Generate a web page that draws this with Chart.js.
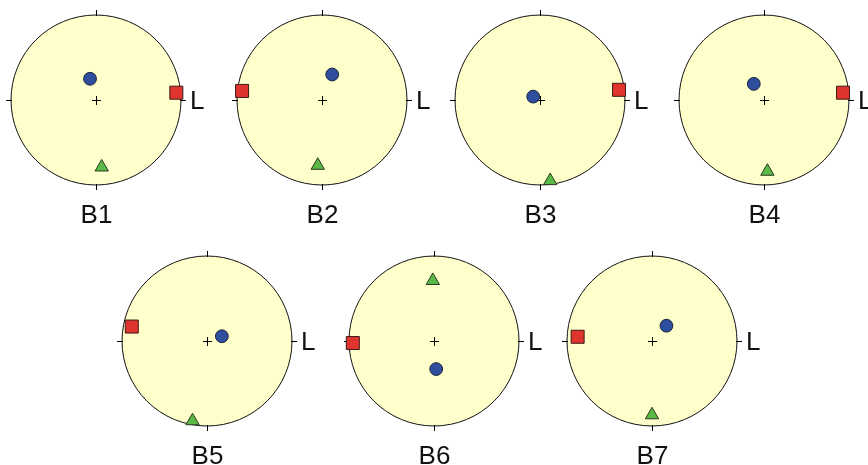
<!DOCTYPE html>
<html>
<head>
<meta charset="utf-8">
<script src="https://cdn.jsdelivr.net/npm/chart.js@4.4.1/dist/chart.umd.min.js"></script>
<style>
  html, body { margin: 0; padding: 0; background: #fff; overflow: hidden; }
  #wrap { position: relative; width: 868px; height: 465px; overflow: hidden; }
  #wrap canvas { position: absolute; }
</style>
</head>
<body>
<div id="wrap"></div>
<script>
  // net names and the label on the east side
  var netNames = ['B1', 'B2', 'B3', 'B4', 'B5', 'B6', 'B7'];
  var eastLabel = 'L';

  // poles in unit-circle coords (x = east, y = north)
  var squarePts = [
    [0.945, 0.086], [-0.94, 0.107], [0.93, 0.12], [0.93, 0.086],
    [-0.885, 0.17], [-0.955, -0.024], [-0.875, 0.05]
  ];
  var circlePts = [
    [-0.07, 0.25], [0.12, 0.30], [-0.08, 0.04], [-0.12, 0.19],
    [0.175, 0.056], [0.026, -0.33], [0.17, 0.18]
  ];
  var trianglePts = [
    [0.067, -0.79], [-0.05, -0.77], [0.12, -0.95], [0.04, -0.84],
    [-0.17, -0.94], [-0.014, 0.71], [0.0, -0.87]
  ];

  // layout: centre of each net on the page
  var netCx = [96, 322, 540, 764, 207, 434, 652];
  var netCy = [100, 100, 100, 100, 341, 341, 341];
  var R = 85;
  var pad = { left: 20, top: 20, right: 45, bottom: 45 };
  var FONT = '"Liberation Sans", Arial, Helvetica, sans-serif';

  function toXY(arr) {
    return arr.map(function(p) { return { x: p[0], y: p[1] }; });
  }

  var netPlugin = {
    id: 'net',
    beforeDatasetsDraw: function(chart) {
      var ctx = chart.ctx;
      var a = chart.chartArea;
      var cx = (a.left + a.right) / 2, cy = (a.top + a.bottom) / 2;
      var r = (a.right - a.left) / 2;
      ctx.save();
      ctx.beginPath();
      ctx.arc(cx, cy, r, 0, Math.PI * 2);
      ctx.fillStyle = '#ffffcc';
      ctx.fill();
      ctx.lineWidth = 1;
      ctx.strokeStyle = '#111';
      ctx.stroke();
      // ticks at N, E, S, W and the centre cross
      ctx.beginPath();
      ctx.moveTo(cx + 0.5, cy - r - 5); ctx.lineTo(cx + 0.5, cy - r + 1);
      ctx.moveTo(cx + 0.5, cy + r + 5); ctx.lineTo(cx + 0.5, cy + r - 1);
      ctx.moveTo(cx - r - 5, cy + 0.5); ctx.lineTo(cx - r + 1, cy + 0.5);
      ctx.moveTo(cx + r + 5, cy + 0.5); ctx.lineTo(cx + r - 1, cy + 0.5);
      ctx.moveTo(cx - 4, cy + 0.5); ctx.lineTo(cx + 5, cy + 0.5);
      ctx.moveTo(cx + 0.5, cy - 4); ctx.lineTo(cx + 0.5, cy + 5);
      ctx.strokeStyle = '#000';
      ctx.stroke();
      ctx.restore();
    },
    afterDraw: function(chart, args, opts) {
      var ctx = chart.ctx;
      var a = chart.chartArea;
      var cx = (a.left + a.right) / 2, cy = (a.top + a.bottom) / 2;
      ctx.save();
      ctx.fillStyle = '#111';
      ctx.font = '26px ' + FONT;
      ctx.textBaseline = 'alphabetic';
      ctx.textAlign = 'left';
      ctx.fillText(eastLabel, cx + 94, cy + 9);
      ctx.textAlign = 'center';
      ctx.fillText(opts.name, cx + 0.5, cy + 123);
      ctx.restore();
    }
  };

  var wrap = document.getElementById('wrap');
  netNames.forEach(function(name, i) {
    var c = document.createElement('canvas');
    var w = pad.left + 2 * R + pad.right;
    var h = pad.top + 2 * R + pad.bottom;
    c.width = w; c.height = h;
    c.style.width = w + 'px'; c.style.height = h + 'px';
    c.style.left = (netCx[i] - R - pad.left) + 'px';
    c.style.top = (netCy[i] - R - pad.top) + 'px';
    wrap.appendChild(c);

    new Chart(c, {
      type: 'scatter',
      data: {
        datasets: [{
          data: toXY(trianglePts.slice(i, i + 1)),
          pointStyle: 'triangle',
          pointRadius: 7.7,
          backgroundColor: '#5bb947',
          borderColor: '#2b3a22',
          borderWidth: 1,
          clip: false
        }, {
          data: toXY(circlePts.slice(i, i + 1)),
          pointStyle: 'circle',
          pointRadius: 6.4,
          backgroundColor: '#2e4d9c',
          borderColor: '#1b2540',
          borderWidth: 1,
          clip: false
        }, {
          data: toXY(squarePts.slice(i, i + 1)),
          pointStyle: 'rect',
          pointRadius: 9.2,
          backgroundColor: '#e0352f',
          borderColor: '#3a1a18',
          borderWidth: 1,
          clip: false
        }]
      },
      options: {
        responsive: false,
        animation: false,
        devicePixelRatio: 1,
        events: [],
        layout: { padding: pad },
        plugins: {
          legend: { display: false },
          tooltip: { enabled: false },
          net: { name: name }
        },
        scales: {
          x: { type: 'linear', min: -1, max: 1, display: false },
          y: { type: 'linear', min: -1, max: 1, display: false }
        }
      },
      plugins: [netPlugin]
    });
  });
</script>
</body>
</html>
